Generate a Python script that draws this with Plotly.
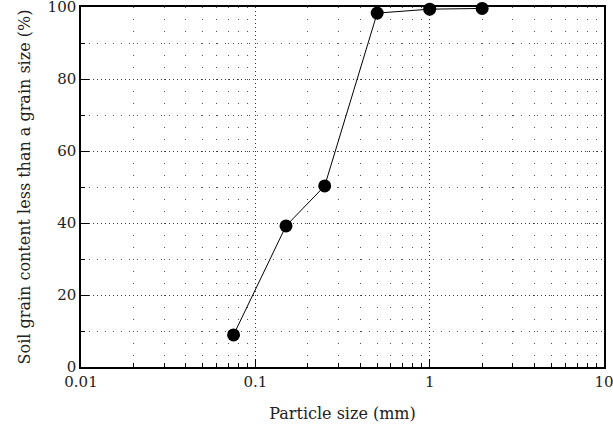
import plotly.graph_objects as go

particle_size_mm = [0.075, 0.15, 0.25, 0.5, 1, 2]
percent_finer = [8.9, 39.2, 50.3, 98.3, 99.4, 99.6]
x_tick_vals = [0.01, 0.1, 1, 10]
x_tick_text = ["0.01", "0.1", "1", "10"]
y_tick_vals = [0, 20, 40, 60, 80, 100]

font_family = "DejaVu Serif"

fig = go.Figure()
fig.add_trace(go.Scatter(
    x=particle_size_mm, y=percent_finer, mode="lines+markers",
    line=dict(color="black", width=1),
    marker=dict(color="black", size=13, symbol="circle"),
    cliponaxis=False, showlegend=False,
))

axis_common = dict(
    showline=True, linecolor="black", linewidth=1.5, mirror=True,
    ticks="inside", tickcolor="black", tickwidth=1, ticklen=8,
    tickfont=dict(family=font_family, size=15, color="#222"),
    zeroline=False, automargin=False, ticklabeloverflow="allow",
)

fig.update_xaxes(
    type="log", range=[-2, 1],
    tickvals=x_tick_vals, ticktext=x_tick_text,
    showgrid=True, gridcolor="#333", gridwidth=1, griddash="1px,3px",
    minor=dict(dtick="D1", ticks="inside", ticklen=4, tickcolor="black",
               showgrid=True, gridcolor="#555", gridwidth=1, griddash="1px,11px"),
    title=dict(text="Particle size (mm)", font=dict(family=font_family, size=16, color="#222"),
               standoff=18),
    **axis_common,
)
fig.update_yaxes(
    range=[0, 100], tickvals=y_tick_vals,
    showgrid=True, gridcolor="#333", gridwidth=1, griddash="1px,3px",
    minor=dict(dtick=10, ticks="inside", ticklen=4, tickcolor="black",
               showgrid=True, gridcolor="#555", gridwidth=1, griddash="1px,7px"),
    title=dict(text="Soil grain content less than a grain size (%)",
               font=dict(family=font_family, size=16, color="#222"), standoff=13),
    **axis_common,
)

fig.update_layout(
    width=613, height=429,
    margin=dict(l=81, r=9, t=7, b=62, autoexpand=False),
    plot_bgcolor="white", paper_bgcolor="white",
    font=dict(family=font_family),
)

fig.write_html("out.html", config={"displayModeBar": False},
               post_script="document.body.style.margin='0px';")
